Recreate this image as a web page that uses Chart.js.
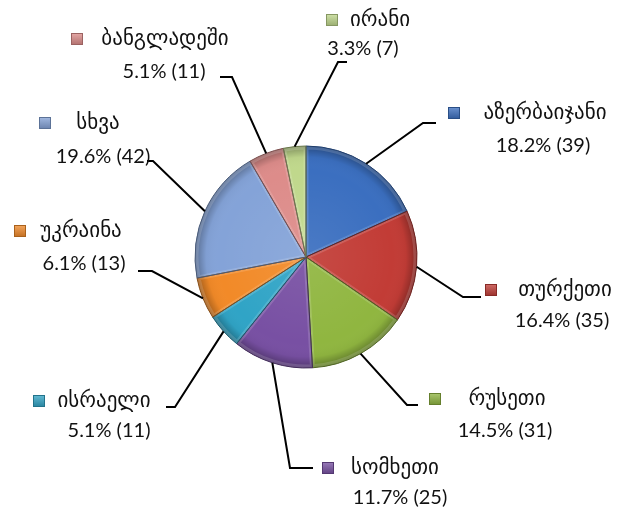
<!DOCTYPE html>
<html>
<head>
<meta charset="utf-8">
<title>ქვეყნები</title>
<script src="https://cdn.jsdelivr.net/npm/chart.js@4.4.1/dist/chart.umd.min.js"></script>
<style>
  html, body { margin: 0; padding: 0; background: #ffffff; }
  #wrap { width: 622px; height: 512px; }
</style>
</head>
<body>
<div id="wrap"><canvas id="pie" width="622" height="512"></canvas></div>
<script>
// Countries, clockwise from 12 o'clock
const countries = ['აზერბაიჯანი', 'თურქეთი', 'რუსეთი', 'სომხეთი', 'ისრაელი', 'უკრაინა', 'სხვა', 'ბანგლადეში', 'ირანი'];
const counts = [39, 35, 31, 25, 11, 13, 42, 11, 7];
const sliceColors = ['#3b6fc0', '#c23c36', '#90b640', '#7850a3', '#30a4c6', '#f28a28', '#84a3d8', '#dd8c8a', '#c0d88c'];

// Placement of each callout: name / value centres (x, y),
// key square left edge, leader elbow and the end of its horizontal run.
const calloutLayout = [
  { nx: 545, ny: 114, vx: 543, vy: 146, sq: 448, elbow: [423, 123], end: 436 },
  { nx: 565, ny: 291, vx: 562, vy: 321, sq: 485, elbow: [463, 297], end: 481 },
  { nx: 507, ny: 400, vx: 505, vy: 431, sq: 429, elbow: [407, 405], end: 418 },
  { nx: 395, ny: 469, vx: 400, vy: 498, sq: 322, elbow: [290, 468], end: 313 },
  { nx: 104, ny: 402, vx: 109, vy: 431, sq: 33,  elbow: [175, 407], end: 166 },
  { nx: 81,  ny: 232, vx: 84,  vy: 264, sq: 14,  elbow: [152, 271], end: 138 },
  { nx: 98,  ny: 124, vx: 103, vy: 157, sq: 39,  elbow: [153, 161], end: 147 },
  { nx: 165, ny: 40,  vx: 164, vy: 72,  sq: 71,  elbow: [232, 77],  end: 220 },
  { nx: 380, ny: 21,  vx: 363, vy: 49,  sq: 326, elbow: [338, 62],  end: 347 }
];

const total = counts.reduce((a, b) => a + b, 0);
const NAME_FONT = '21px "DejaVu Sans", sans-serif';
const VALUE_FONT = '20px Lato, "DejaVu Sans", sans-serif';

function shade(hex, amt) {
  const n = parseInt(hex.slice(1), 16);
  let r = (n >> 16) & 255, g = (n >> 8) & 255, b = n & 255;
  const t = amt < 0 ? 0 : 255, p = Math.abs(amt);
  r = Math.round(r + (t - r) * p); g = Math.round(g + (t - g) * p); b = Math.round(b + (t - b) * p);
  return 'rgb(' + r + ',' + g + ',' + b + ')';
}

function slicePath(ctx, x, y, r, a0, a1) {
  ctx.beginPath();
  ctx.moveTo(x, y);
  ctx.arc(x, y, r, a0, a1);
  ctx.closePath();
}

// Bevel-like shading laid over every slice
const bevelPlugin = {
  id: 'bevel',
  afterDatasetsDraw(chart) {
    const ctx = chart.ctx;
    chart.getDatasetMeta(0).data.forEach((arc, i) => {
      const { x, y, startAngle, endAngle, outerRadius } = arc.getProps(['x', 'y', 'startAngle', 'endAngle', 'outerRadius'], true);
      ctx.save();
      slicePath(ctx, x, y, outerRadius, startAngle, endAngle);
      ctx.clip();
      const g = ctx.createRadialGradient(x, y, 0, x, y, outerRadius);
      g.addColorStop(0, 'rgba(255,255,255,0.08)');
      g.addColorStop(0.78, 'rgba(255,255,255,0)');
      g.addColorStop(0.9, 'rgba(0,0,0,0.03)');
      g.addColorStop(1, 'rgba(0,0,0,0.32)');
      ctx.fillStyle = g;
      ctx.fillRect(x - outerRadius, y - outerRadius, outerRadius * 2, outerRadius * 2);
      // light rim along the slice edges
      slicePath(ctx, x, y, outerRadius - 1, startAngle, endAngle);
      ctx.lineWidth = 5;
      ctx.strokeStyle = 'rgba(255,255,255,0.15)';
      ctx.stroke();
      ctx.restore();
      ctx.save();
      slicePath(ctx, x, y, outerRadius, startAngle, endAngle);
      ctx.lineWidth = 1;
      ctx.strokeStyle = shade(sliceColors[i], -0.45);
      ctx.stroke();
      ctx.restore();
    });
  }
};

// Callouts: leader line, key square, country name, share and count
const calloutPlugin = {
  id: 'callouts',
  afterDraw(chart) {
    const ctx = chart.ctx;
    chart.getDatasetMeta(0).data.forEach((arc, i) => {
      const L = calloutLayout[i];
      const { x, y, startAngle, endAngle, outerRadius } = arc.getProps(['x', 'y', 'startAngle', 'endAngle', 'outerRadius'], true);
      const mid = (startAngle + endAngle) / 2;
      const px = x + Math.cos(mid) * outerRadius;
      const py = y + Math.sin(mid) * outerRadius;
      ctx.save();
      ctx.strokeStyle = '#000';
      ctx.lineWidth = 2;
      ctx.beginPath();
      ctx.moveTo(px, py);
      ctx.lineTo(L.elbow[0], L.elbow[1]);
      ctx.lineTo(L.end, L.elbow[1]);
      ctx.stroke();

      // key square
      const s = 12, sy = L.ny - 7;
      const kg = ctx.createLinearGradient(L.sq, sy, L.sq, sy + s);
      kg.addColorStop(0, shade(sliceColors[i], 0.25));
      kg.addColorStop(1, shade(sliceColors[i], -0.2));
      ctx.fillStyle = kg;
      ctx.fillRect(L.sq, sy, s, s);
      ctx.strokeStyle = shade(sliceColors[i], -0.3);
      ctx.lineWidth = 1;
      ctx.strokeRect(L.sq + 0.5, sy + 0.5, s - 1, s - 1);

      ctx.fillStyle = '#111';
      ctx.textAlign = 'center';
      ctx.textBaseline = 'middle';
      ctx.font = NAME_FONT;
      ctx.fillText(countries[i], L.nx, L.ny);
      ctx.font = VALUE_FONT;
      const pct = (counts[i] / total * 100).toFixed(1);
      ctx.fillText(pct + '% (' + counts[i] + ')', L.vx, L.vy);
      ctx.restore();
    });
  }
};

new Chart(document.getElementById('pie'), {
  type: 'pie',
  data: {
    labels: countries,
    datasets: [{
      data: counts,
      backgroundColor: sliceColors,
      borderWidth: 0
    }]
  },
  options: {
    responsive: false,
    animation: false,
    layout: { padding: { left: 195, right: 205, top: 146, bottom: 144 } },
    plugins: { legend: { display: false }, tooltip: { enabled: false } }
  },
  plugins: [bevelPlugin, calloutPlugin]
});
</script>
</body>
</html>
